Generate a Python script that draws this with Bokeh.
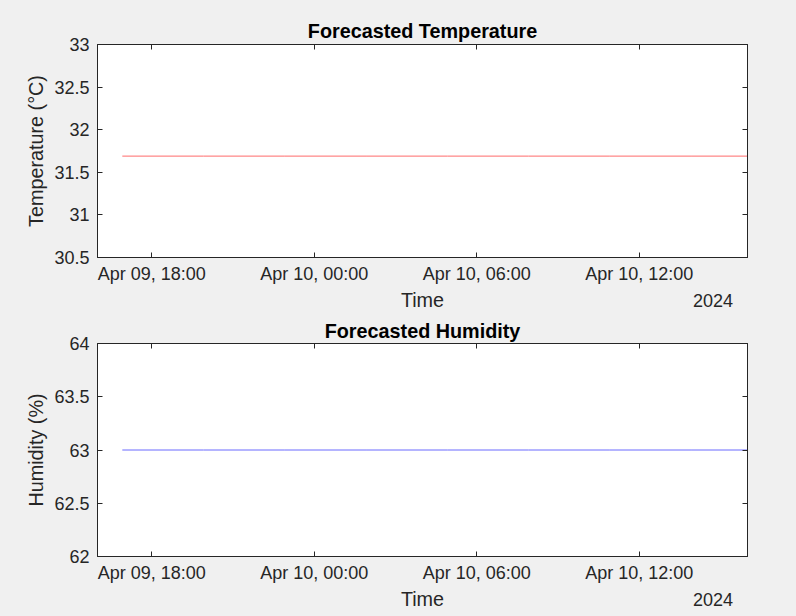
from datetime import datetime, timedelta
from bokeh.plotting import figure
from bokeh.layouts import column
from bokeh.models import (Range1d, FixedTicker, DatetimeTickFormatter, LinearAxis,
                          DatetimeAxis, CustomJSTickFormatter)
from bokeh.embed import file_html
from bokeh.resources import INLINE

# ---- data ----
times = [datetime(2024, 4, 9, 16, 55), datetime(2024, 4, 9, 19, 55), datetime(2024, 4, 9, 22, 55),
         datetime(2024, 4, 10, 1, 55), datetime(2024, 4, 10, 4, 55), datetime(2024, 4, 10, 7, 55),
         datetime(2024, 4, 10, 10, 55), datetime(2024, 4, 10, 13, 55), datetime(2024, 4, 10, 16, 55)]
temperature = [31.69, 31.69, 31.69, 31.69, 31.69, 31.69, 31.69, 31.69, 31.69]
humidity = [63, 63, 63, 63, 63, 63, 63, 63, 63]

x_start = datetime(2024, 4, 9, 16, 0)
x_end = datetime(2024, 4, 10, 16, 0)
x_ticks = [datetime(2024, 4, 9, 18, 0), datetime(2024, 4, 10, 0, 0),
           datetime(2024, 4, 10, 6, 0), datetime(2024, 4, 10, 12, 0)]
temp_ticks = [30.5, 31, 31.5, 32, 32.5, 33]
hum_ticks = [62, 62.5, 63, 63.5, 64]
year_label = "2024"

FONT = "Liberation Sans"
TXT = "#262626"
BG = "#f0f0f0"
TICK_FS = "18px"
LABEL_FS = "19.8px"


def to_ms(d):
    return (d - datetime(1970, 1, 1)).total_seconds() * 1000.0


def make_panel(title, ylabel, y, yticks, color, height, b_top, b_bottom, t_standoff):
    p = figure(width=796, height=height, output_backend="svg", toolbar_location=None,
               x_axis_type="datetime",
               x_range=Range1d(x_start, x_end), y_range=Range1d(yticks[0], yticks[-1]),
               min_border_left=97, min_border_right=49, min_border_top=b_top,
               min_border_bottom=b_bottom)
    p.background_fill_color = "white"
    p.border_fill_color = BG
    p.outline_line_color = TXT
    p.outline_line_width = 1
    p.grid.visible = False

    p.title.text = title
    p.title.align = "center"
    p.title.text_font = FONT
    p.title.text_font_size = LABEL_FS
    p.title.text_font_style = "bold"
    p.title.text_color = "black"
    p.title.standoff = t_standoff

    p.line(times, y, line_color=color, line_width=1)

    xt = FixedTicker(ticks=[to_ms(t) for t in x_ticks], minor_ticks=[])
    yt = FixedTicker(ticks=yticks, minor_ticks=[])
    yfmt = CustomJSTickFormatter(code="return String(Math.round(tick*10)/10);")
    blank = CustomJSTickFormatter(code="return '';")

    xa = p.xaxis[0]
    xa.ticker = xt
    xa.formatter = DatetimeTickFormatter(hours="%b %d, %H:%M", days="%b %d, %H:%M",
                                         hourmin="%b %d, %H:%M")
    xa.axis_label = "Time"
    ya = p.yaxis[0]
    ya.ticker = yt
    ya.formatter = yfmt
    ya.axis_label = ylabel

    for ax in (xa, ya):
        ax.major_tick_in = 5
        ax.major_tick_out = 0
        ax.minor_tick_in = 0
        ax.minor_tick_out = 0
        ax.axis_line_color = TXT
        ax.major_tick_line_color = TXT
        ax.major_label_text_font = FONT
        ax.major_label_text_font_size = TICK_FS
        ax.major_label_text_color = TXT
        ax.axis_label_text_font = FONT
        ax.axis_label_text_font_size = LABEL_FS
        ax.axis_label_text_font_style = "normal"
        ax.axis_label_text_color = TXT
    xa.major_label_standoff = 6
    xa.axis_label_standoff = 2
    ya.major_label_standoff = 8
    ya.axis_label_standoff = 4

    # year annotation row, drawn as a tick label of a second bottom axis
    year_pos = x_end - timedelta(hours=1.27)
    ya2 = DatetimeAxis(ticker=FixedTicker(ticks=[to_ms(year_pos)], minor_ticks=[]),
                       formatter=CustomJSTickFormatter(args=dict(lbl=year_label),
                                                       code="return lbl;"),
                       axis_line_alpha=0, major_tick_in=0, major_tick_out=0,
                       minor_tick_in=0, minor_tick_out=0,
                       major_label_standoff=-20, major_label_text_font=FONT,
                       major_label_text_font_size=TICK_FS, major_label_text_color=TXT)
    p.add_layout(ya2, "below")

    # top and right tick-only axes (box)
    top = DatetimeAxis(ticker=xt, formatter=blank, major_label_text_font_size="1px",
                       major_tick_in=5, major_tick_out=0, minor_tick_in=0, minor_tick_out=0,
                       axis_line_color=TXT, major_tick_line_color=TXT, major_label_standoff=0)
    right = LinearAxis(ticker=yt, formatter=blank, major_label_text_font_size="1px",
                       major_tick_in=5, major_tick_out=0, minor_tick_in=0, minor_tick_out=0,
                       axis_line_color=TXT, major_tick_line_color=TXT, major_label_standoff=0)
    p.add_layout(top, "above")
    p.add_layout(right, "right")
    return p


p1 = make_panel("Forecasted Temperature", "Temperature (°C)", temperature, temp_ticks,
                "#ff6a6a", 316, 44, 59, 5)
p2 = make_panel("Forecasted Humidity", "Humidity (%)", humidity, hum_ticks,
                "#6a6aff", 300, 27, 60, 3)

layout = column(p1, p2, spacing=0, styles={"background-color": BG})

html = file_html(layout, INLINE)
html = html.replace("<body>", '<body style="background-color:#f0f0f0">')
open("out.html", "w").write(html)
